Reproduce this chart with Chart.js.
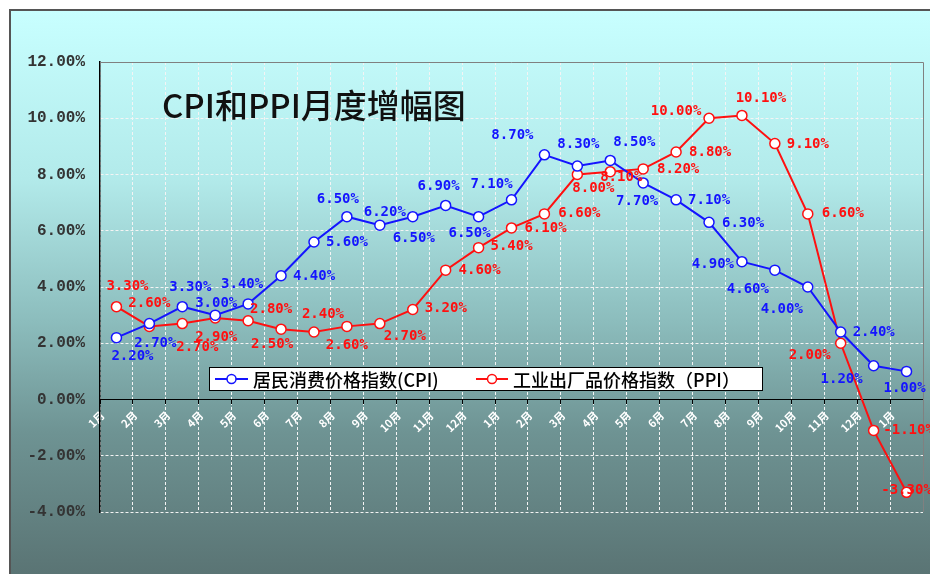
<!DOCTYPE html>
<html>
<head>
<meta charset="utf-8">
<script src="https://cdn.jsdelivr.net/npm/chart.js@4.4.1/dist/chart.umd.min.js"></script>
<style>
  html, body { margin: 0; padding: 0; background: #fff; }
  canvas { display: block; }
</style>
</head>
<body>
<canvas id="chart" width="930" height="574"></canvas>
<script>
// data
const months = ['1月', '2月', '3月', '4月', '5月', '6月', '7月', '8月', '9月', '10月', '11月', '12月',
  '1月', '2月', '3月', '4月', '5月', '6月', '7月', '8月', '9月', '10月', '11月', '12月', '1月'];
const cpi = [2.2, 2.7, 3.3, 3.0, 3.4, 4.4, 5.6, 6.5, 6.2, 6.5, 6.9, 6.5,
  7.1, 8.7, 8.3, 8.5, 7.7, 7.1, 6.3, 4.9, 4.6, 4.0, 2.4, 1.2, 1.0];
const ppi = [3.3, 2.6, 2.7, 2.9, 2.8, 2.5, 2.4, 2.6, 2.7, 3.2, 4.6, 5.4,
  6.1, 6.6, 8.0, 8.1, 8.2, 8.8, 10.0, 10.1, 9.1, 6.6, 2.0, -1.1, -3.3];
const yMin = -4;
const yMax = 12;
const yStep = 2;
const cpiName = '居民消费价格指数(CPI)';
const ppiName = '工业出厂品价格指数（PPI）';
const chartTitle = 'CPI和PPI月度增幅图';

const BLUE = '#1414ff';
const RED = '#ff1010';

// where each value label sits relative to its point (dx, dy)
const cpiLabelOffsets = [[16, 19], [6, 20], [8, -19], [1, -12], [-6, -20], [33, 1], [33, 0], [-9, -17],
  [5, -13], [1, 22], [-7, -19], [-9, 17], [-20, -15], [-32, -19], [1, -22], [24, -18], [-6, 18],
  [33, 1], [34, 1], [-29, 3], [-27, 19], [-26, 22], [33, 0], [-32, 14], [-2, 17]];
const ppiLabelOffsets = [[11, -20], [0, -23], [15, 24], [1, 19], [23, -11], [-9, 15], [9, -18], [0, 19],
  [25, 13], [33, -1], [34, 0], [33, -1], [34, 0], [35, -1], [16, 14], [11, 6], [35, 0], [34, 0],
  [-33, -7], [19, -17], [33, 1], [35, -1], [-31, 12], [35, 0], [0, -2]];

const framePlugin = {
  id: 'frame',
  beforeDraw(chart) {
    const { ctx, width, height } = chart;
    ctx.save();
    ctx.fillStyle = '#fff';
    ctx.fillRect(0, 0, width, height);
    const g = ctx.createLinearGradient(0, 10, 0, height);
    g.addColorStop(0, '#c8ffff');
    g.addColorStop(0.3, '#b2eaea');
    g.addColorStop(0.55, '#8cbdbd');
    g.addColorStop(0.75, '#6e9393');
    g.addColorStop(1, '#5a7474');
    ctx.fillStyle = g;
    ctx.fillRect(10, 10, width - 10, height - 10);
    ctx.strokeStyle = '#555';
    ctx.lineWidth = 2;
    ctx.beginPath();
    ctx.moveTo(10, height);
    ctx.lineTo(10, 10);
    ctx.lineTo(width, 10);
    ctx.stroke();
    ctx.restore();
  },
  beforeDatasetsDraw(chart) {
    const { ctx, chartArea: a } = chart;
    ctx.save();
    ctx.strokeStyle = '#808080';
    ctx.lineWidth = 1;
    ctx.beginPath();
    ctx.moveTo(a.left, a.top + 0.5);
    ctx.lineTo(a.right + 0.5, a.top + 0.5);
    ctx.lineTo(a.right + 0.5, a.bottom);
    ctx.stroke();
    // title inside the plot
    ctx.fillStyle = '#111';
    ctx.font = '500 33px "Noto Sans CJK SC"';
    ctx.textBaseline = 'middle';
    ctx.fillText(chartTitle, 162, 105);
    ctx.restore();
  },
};

const legendPlugin = {
  id: 'boxLegend',
  afterDatasetsDraw(chart) {
    const { ctx } = chart;
    const items = [
      { ds: chart.data.datasets[0], x: 215, w: 33 },
      { ds: chart.data.datasets[1], x: 476, w: 32 },
    ];
    ctx.save();
    ctx.fillStyle = '#fff';
    ctx.fillRect(209.5, 367.5, 553, 23);
    ctx.strokeStyle = '#000';
    ctx.lineWidth = 1;
    ctx.strokeRect(209.5, 367.5, 553, 23);
    const y = 379;
    items.forEach(({ ds, x, w }) => {
      ctx.strokeStyle = ds.borderColor;
      ctx.lineWidth = 2;
      ctx.beginPath();
      ctx.moveTo(x, y);
      ctx.lineTo(x + w, y);
      ctx.stroke();
      ctx.fillStyle = '#fff';
      ctx.lineWidth = 1.5;
      ctx.beginPath();
      ctx.arc(x + w / 2, y, 4.5, 0, Math.PI * 2);
      ctx.fill();
      ctx.stroke();
      ctx.fillStyle = '#000';
      ctx.font = '500 18px "Noto Sans CJK SC"';
      ctx.textBaseline = 'middle';
      ctx.fillText(ds.label, x + w + 5, y + 1);
    });
    ctx.restore();
  },
};

const valueLabelPlugin = {
  id: 'valueLabels',
  afterDatasetsDraw(chart) {
    const { ctx } = chart;
    const offsets = [cpiLabelOffsets, ppiLabelOffsets];
    ctx.save();
    ctx.font = 'bold 14px "DejaVu Sans Mono"';
    ctx.textAlign = 'center';
    ctx.textBaseline = 'middle';
    chart.data.datasets.forEach((ds, i) => {
      const meta = chart.getDatasetMeta(i);
      ctx.fillStyle = ds.borderColor;
      meta.data.forEach((pt, j) => {
        const [dx, dy] = offsets[i][j];
        ctx.fillText(ds.data[j].toFixed(2) + '%', pt.x + dx, pt.y + dy);
      });
    });
    ctx.restore();
  },
};

const series = (label, data, color) => ({
  label,
  data,
  borderColor: color,
  backgroundColor: color,
  borderWidth: 2,
  tension: 0,
  pointRadius: 5,
  pointBackgroundColor: '#fff',
  pointBorderColor: color,
  pointBorderWidth: 1.5,
});

new Chart(document.getElementById('chart'), {
  type: 'line',
  data: {
    labels: months,
    datasets: [series(cpiName, cpi, BLUE), series(ppiName, ppi, RED)],
  },
  options: {
    responsive: false,
    animation: false,
    layout: { padding: { left: 10, top: 62, right: 7, bottom: 62 } },
    plugins: { legend: { display: false }, title: { display: false }, tooltip: { enabled: false } },
    scales: {
      x: {
        type: 'category',
        position: { y: 0 },
        offset: true,
        grid: {
          offset: true,
          color: '#f4f4f4',
          lineWidth: 1,
          drawTicks: true,
          tickLength: 4,
          tickColor: '#000',
          tickBorderDash: [],
        },
        border: { display: true, color: '#000', width: 1, dash: [3, 2] },
        ticks: {
          color: '#fff',
          font: { size: 11, weight: 'bold', family: '"Noto Sans CJK SC"' },
          minRotation: 45,
          maxRotation: 45,
          autoSkip: false,
          padding: 5,
          labelOffset: -14,
        },
        afterFit(scale) { scale.height = 0; },
      },
      y: {
        min: yMin,
        max: yMax,
        grid: { color: '#f4f4f4', drawTicks: false },
        border: { display: true, color: '#000', width: 1.5, dash: [3, 2] },
        ticks: {
          stepSize: yStep,
          padding: 15,
          color: '#333',
          font: { size: 16, weight: 'bold', family: '"Liberation Mono"' },
          callback: (v) => v.toFixed(2) + '%',
        },
        afterFit(scale) { scale.width = 90; },
      },
    },
  },
  plugins: [framePlugin, legendPlugin, valueLabelPlugin],
});
</script>
</body>
</html>
